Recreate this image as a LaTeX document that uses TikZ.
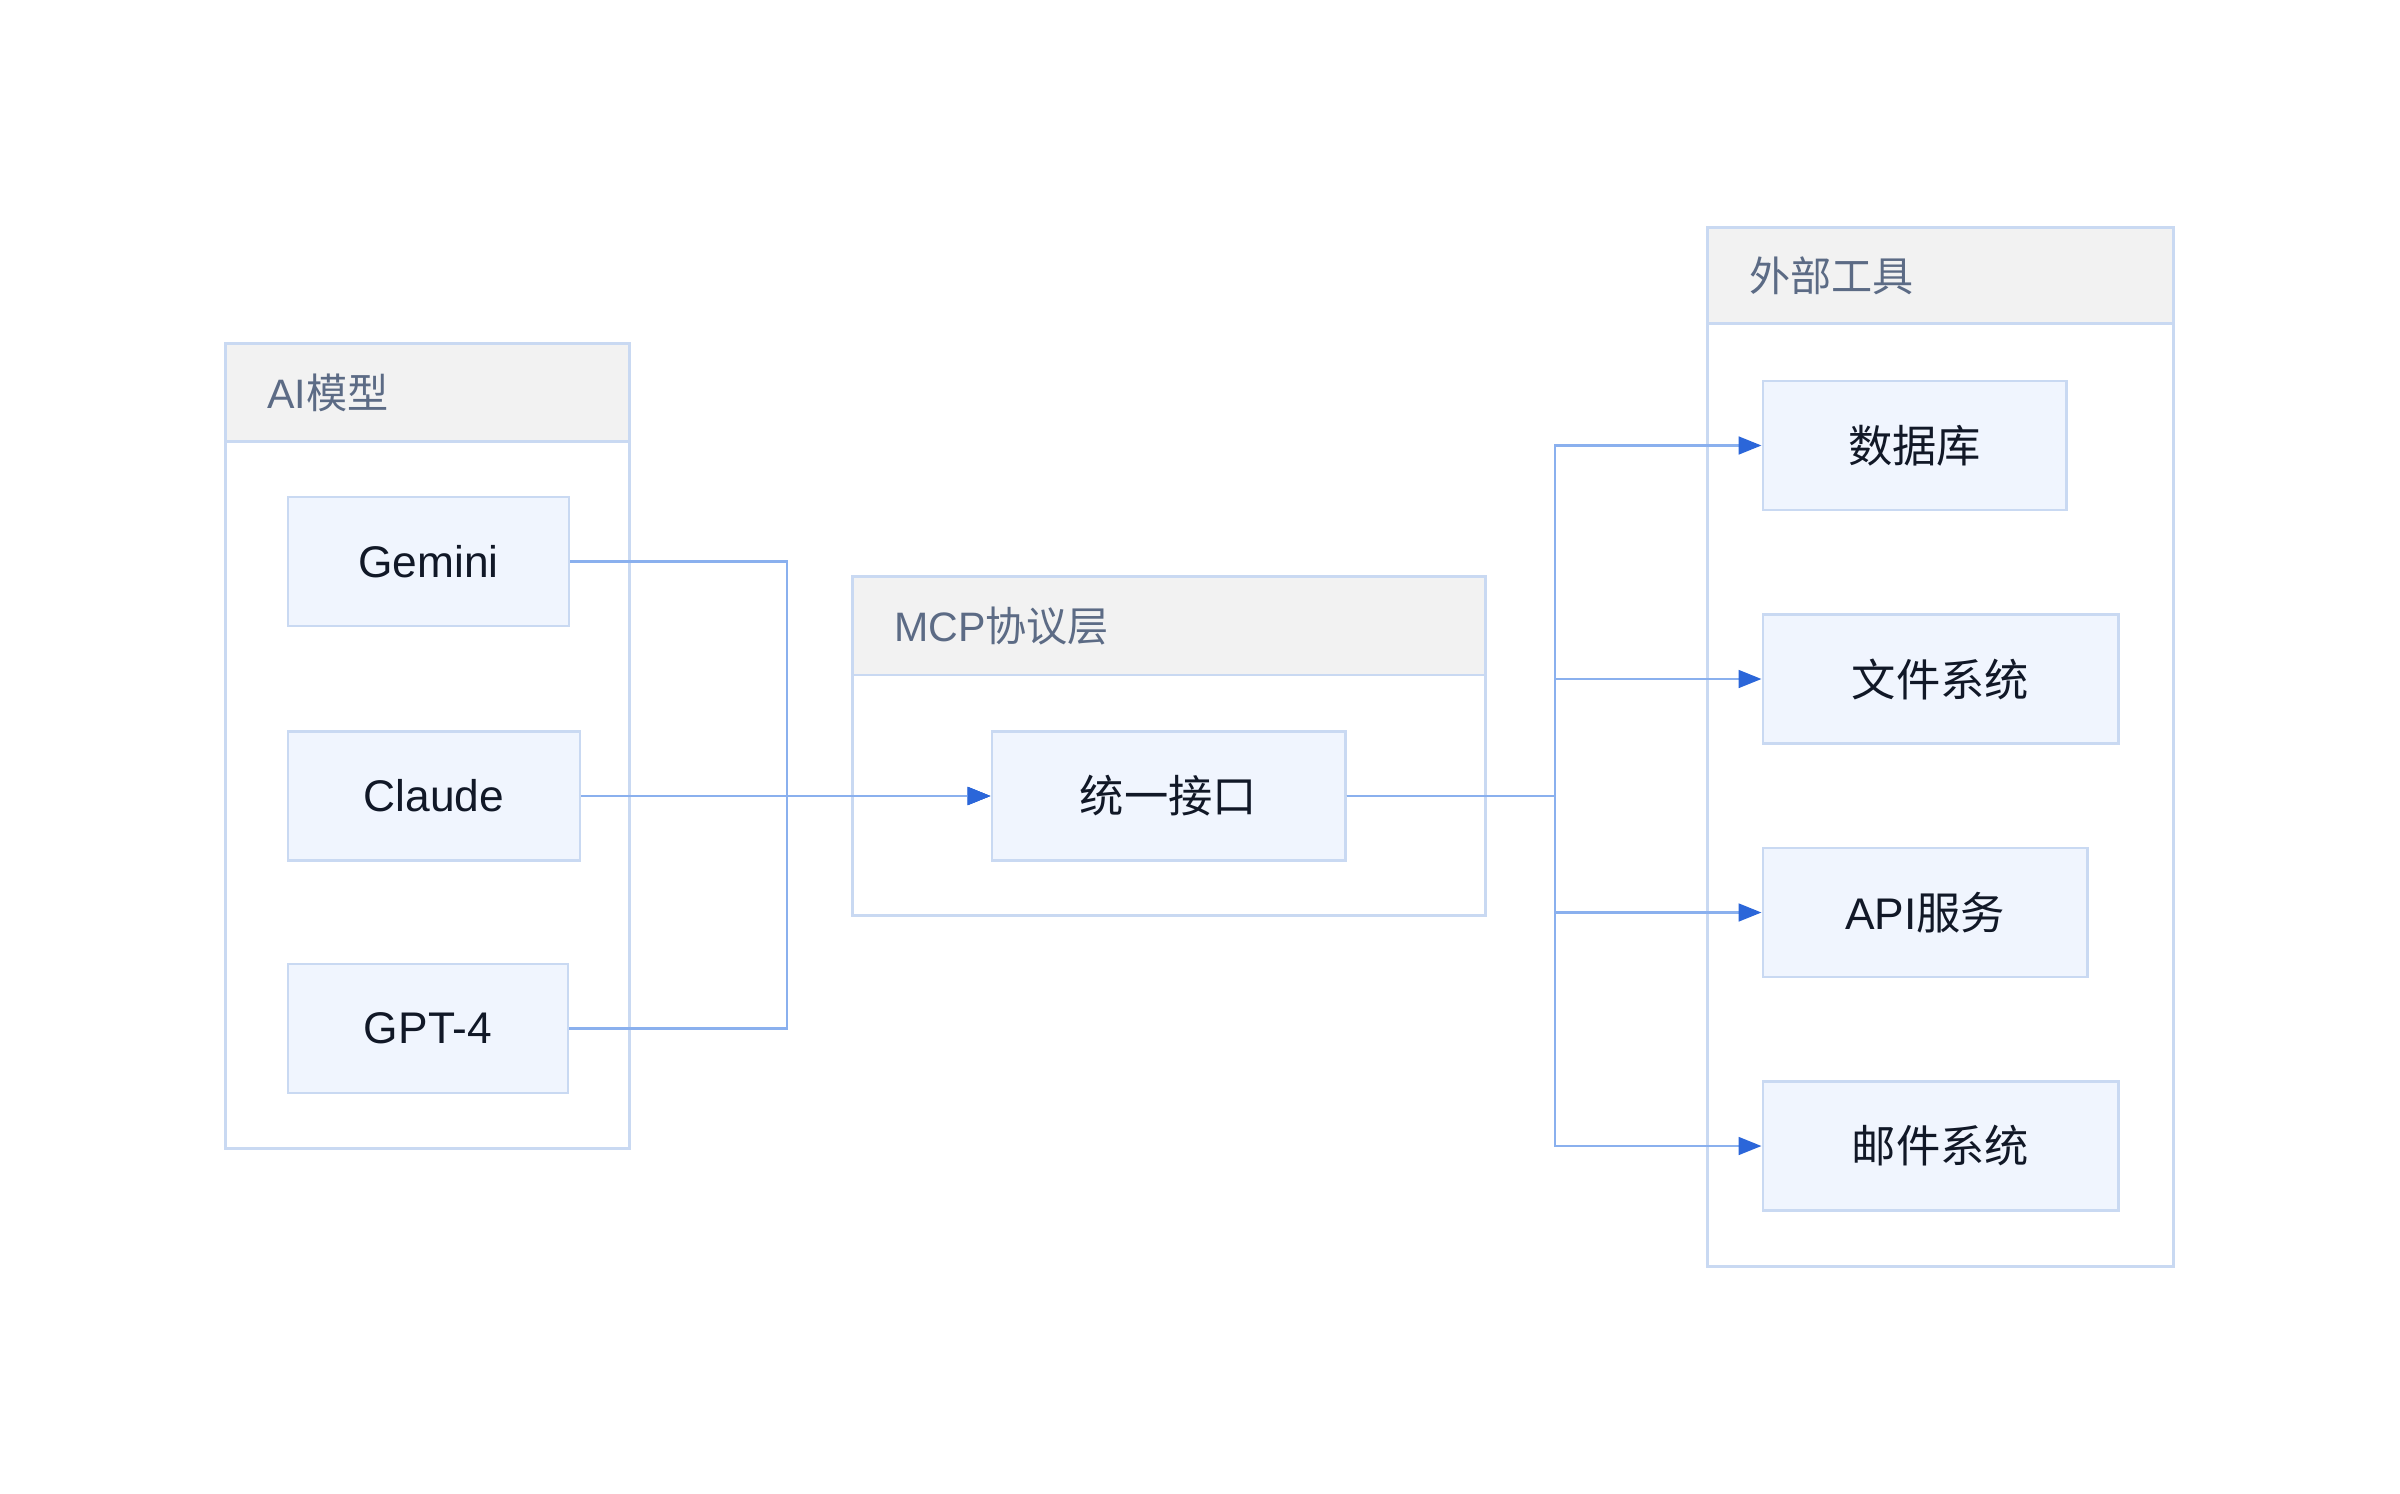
\documentclass[tikz,border=0pt]{standalone}
\usepackage{fontspec}
\setmainfont{Liberation Sans}
\newfontfamily\cjk{Noto Sans CJK SC}
\usepackage{xcolor}
\definecolor{grpline}{HTML}{C9D9F2}
\definecolor{headfill}{HTML}{F2F2F2}
\definecolor{headtext}{HTML}{5C6B85}
\definecolor{boxfill}{HTML}{F0F5FE}
\definecolor{textdark}{HTML}{111827}
\definecolor{linkblue}{HTML}{8AB0EE}
\definecolor{tipblue}{HTML}{2B66D9}
\usetikzlibrary{arrows.meta,positioning}

\begin{document}
\begin{tikzpicture}[x=0.01cm, y=-0.01cm,
    grp/.style={rectangle, draw=grpline, fill=white, line width=0.8pt, inner sep=0},
    grphead/.style={rectangle, draw=grpline, fill=headfill, line width=0.8pt, inner sep=0, minimum height=0.98cm, anchor=north west},
    glabel/.style={anchor=west, inner xsep=0, xshift=0.42cm, font=\fontsize{11.7}{14}\selectfont, text=headtext},
    tool/.style={rectangle, draw=grpline, fill=boxfill, line width=0.8pt, minimum height=1.29cm, inner sep=0, font=\fontsize{12.6}{15}\selectfont, text=textdark},
    link/.style={draw=linkblue, line width=0.8pt, -{Triangle[length=6.5pt, width=5pt, color=tipblue]}}
  ]
    \useasboundingbox (0,0) rectangle (2400,1494);

    % groups
    \node[grp, minimum width=4.03cm, minimum height=8.04cm] (aigrp) at (427.5,746) {};
    \node[grphead, minimum width=4.03cm] (aihead) at (aigrp.north west) {};
    \node[glabel] (ailabel) at (aihead.west) {AI{\cjk 模型}};

    \node[grp, minimum width=6.32cm, minimum height=3.38cm] (mcpgrp) at (1169,746) {};
    \node[grphead, minimum width=6.32cm] (mcphead) at (mcpgrp.north west) {};
    \node[glabel] (mcplabel) at (mcphead.west) {MCP{\cjk 协议层}};

    \node[grp, minimum width=4.65cm, minimum height=10.38cm] (extgrp) at (1940.5,747) {};
    \node[grphead, minimum width=4.65cm, minimum height=0.96cm] (exthead) at (extgrp.north west) {};
    \node[glabel] (extlabel) at (exthead.west) {{\cjk 外部工具}};

    % models
    \node[tool, minimum width=2.81cm] (gemini) at (428.5,561.5) {Gemini};
    \node[tool, minimum width=2.92cm] (claude) at (434,796) {Claude};
    \node[tool, minimum width=2.80cm] (gpt) at (428,1028.5) {GPT-4};

    \node[tool, minimum width=3.53cm] (iface) at (1168.5,796) {{\cjk 统一接口}};

    % tools
    \node[tool, minimum width=3.03cm] (db) at (1914.5,445.5) {{\cjk 数据库}};
    \node[tool, minimum width=3.55cm] (fs) at (1940.5,679) {{\cjk 文件系统}};
    \node[tool, minimum width=3.24cm] (api) at (1925,912.5) {API{\cjk 服务}};
    \node[tool, minimum width=3.55cm] (mail) at (1940.5,1146) {{\cjk 邮件系统}};

    \coordinate (jl) at (787,796);
    \coordinate (jr) at (1555,796);

    \draw[link] (gemini.east) -| (jl) -- (iface.west);
    \draw[link] (claude.east) -- (iface.west);
    \draw[link] (gpt.east) -| (jl) -- (iface.west);
    \foreach \t in {db,fs,api,mail}
      \draw[link] (iface.east) -- (jr) |- (\t.west);
  \end{tikzpicture}
\end{document}
